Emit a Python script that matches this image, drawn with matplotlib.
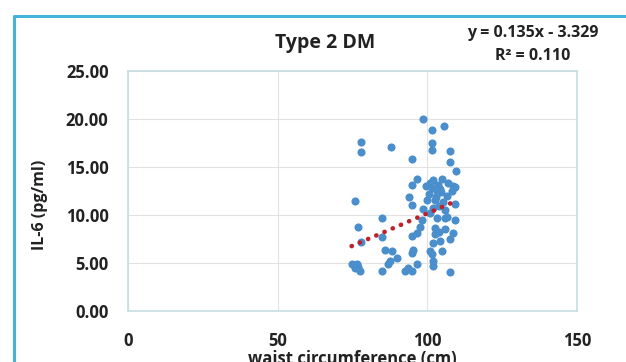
import numpy as np
import matplotlib
matplotlib.use('Agg')
import matplotlib.pyplot as plt
from matplotlib.lines import Line2D

plt.rcParams['font.family'] = ['Open Sans', 'DejaVu Sans']

# waist circumference (cm) and IL-6 (pg/ml)
waist = [98.7, 101.7, 105.6, 77.7, 77.7, 87.9, 101.7, 101.7, 107.6, 94.8, 107.6, 109.6,
         96.7, 94.8, 100.9, 102.0, 104.8, 101.4, 103.1, 104.2, 108.1, 109.3, 108.7,
         75.7, 93.7, 94.8, 99.8, 102.6, 105.3, 109.3, 98.7, 102.0, 105.9, 84.7, 98.1,
         103.1, 105.9, 109.3, 106.4, 76.8, 97.6, 102.6, 105.9,
         100.5, 103.5, 106.5, 101.0, 104.0, 99.5, 103.0, 107.0, 104.5,
         77.7, 84.7, 94.8, 96.4, 102.6, 104.0, 108.7, 102.0, 104.2, 107.6, 85.9, 88.1,
         95.3, 94.8, 89.8, 87.5, 87.0, 100.9, 101.4, 102.0, 102.0, 104.8, 96.4, 74.7,
         76.4, 75.8, 77.5, 76.8, 84.7, 92.5, 94.8, 107.6, 93.5]
il6 = [19.97, 18.85, 19.27, 17.6, 16.6, 17.05, 17.5, 16.8, 16.7, 15.8, 15.55, 14.55,
       13.75, 13.1, 13.3, 13.6, 13.75, 12.8, 12.45, 12.7, 12.45, 12.9, 13.0,
       11.5, 11.85, 11.0, 11.6, 11.6, 11.4, 11.1, 10.6, 10.7, 10.5, 9.7, 9.5,
       9.7, 9.7, 9.5, 9.8, 8.75, 8.8, 8.65, 8.5,
       12.2, 13.1, 12.0, 10.2, 10.9, 13.0, 11.9, 13.3, 12.4,
       7.2, 7.7, 7.8, 8.15, 8.0, 8.2, 8.15, 7.1, 7.3, 7.45, 6.35, 6.25,
       6.4, 6.05, 5.55, 5.2, 4.85, 6.25, 5.9, 5.2, 4.7, 6.25, 4.85, 4.85,
       4.85, 4.5, 4.15, 4.6, 4.2, 4.2, 4.2, 4.1, 4.5]

slope = 0.135
intercept = -3.329
r2 = 0.110

x_ticks = [0, 50, 100, 150]
y_ticks = [0, 5, 10, 15, 20, 25]

fig = plt.figure(figsize=(6.26, 3.62), dpi=100)
ax = fig.add_axes([0.2045, 0.1409, 0.7173, 0.663])

ax.scatter(waist, il6, s=34, color='#4A8FCB', zorder=3, linewidths=0)

# linear trend line (round dots)
xt = np.array([min(waist), max(waist)])
ax.plot(xt, slope * xt + intercept, color='#C0202A', linestyle=(0, (0.05, 1.9)),
        linewidth=3.3, dash_capstyle='round', zorder=4)

ax.set_xlim(0, 150)
ax.set_ylim(0, 25)
ax.set_xticks(x_ticks)
ax.set_yticks(y_ticks)
ax.set_xticklabels([str(t) for t in x_ticks])
ax.set_yticklabels(['%.2f' % t for t in y_ticks])
ax.grid(True, color='#E2E2E2', linewidth=0.8)
ax.set_axisbelow(True)
for s in ax.spines.values():
    s.set_color('#C6DCE6')
    s.set_linewidth(1.2)
ax.tick_params(axis='both', length=0, labelsize=12, colors='#222222')
ax.tick_params(axis='y', pad=14)
ax.tick_params(axis='x', pad=15)
for lab in ax.get_xticklabels() + ax.get_yticklabels():
    lab.set_fontweight('bold')

fig.text(0.519, 0.881, 'Type 2 DM', ha='center', va='center', fontsize=14,
         fontweight='bold', color='#222222')
fig.text(0.851, 0.909, 'y = %.3fx - %.3f' % (slope, -intercept), ha='center',
         va='center', fontsize=11.5, fontweight='bold', color='#222222')
fig.text(0.851, 0.845, 'R² = %.3f' % r2, ha='center', va='center', fontsize=11.5,
         fontweight='bold', color='#222222')
fig.text(0.064, 0.434, 'IL-6 (pg/ml)', rotation=90, ha='center', va='center',
         fontsize=11.5, fontweight='bold', color='#222222')
fig.text(0.5625, 0.009, 'waist circumference (cm)', ha='center', va='center',
         fontsize=12, fontweight='bold', color='#222222')

# outer chart border (left and top edges)
fig.add_artist(Line2D([14 / 626, 14 / 626, 1.0], [0.0, 1 - 16 / 362, 1 - 16 / 362],
                      transform=fig.transFigure, color='#46B3DA', linewidth=2.2))

fig.savefig('out.png', dpi=100)
